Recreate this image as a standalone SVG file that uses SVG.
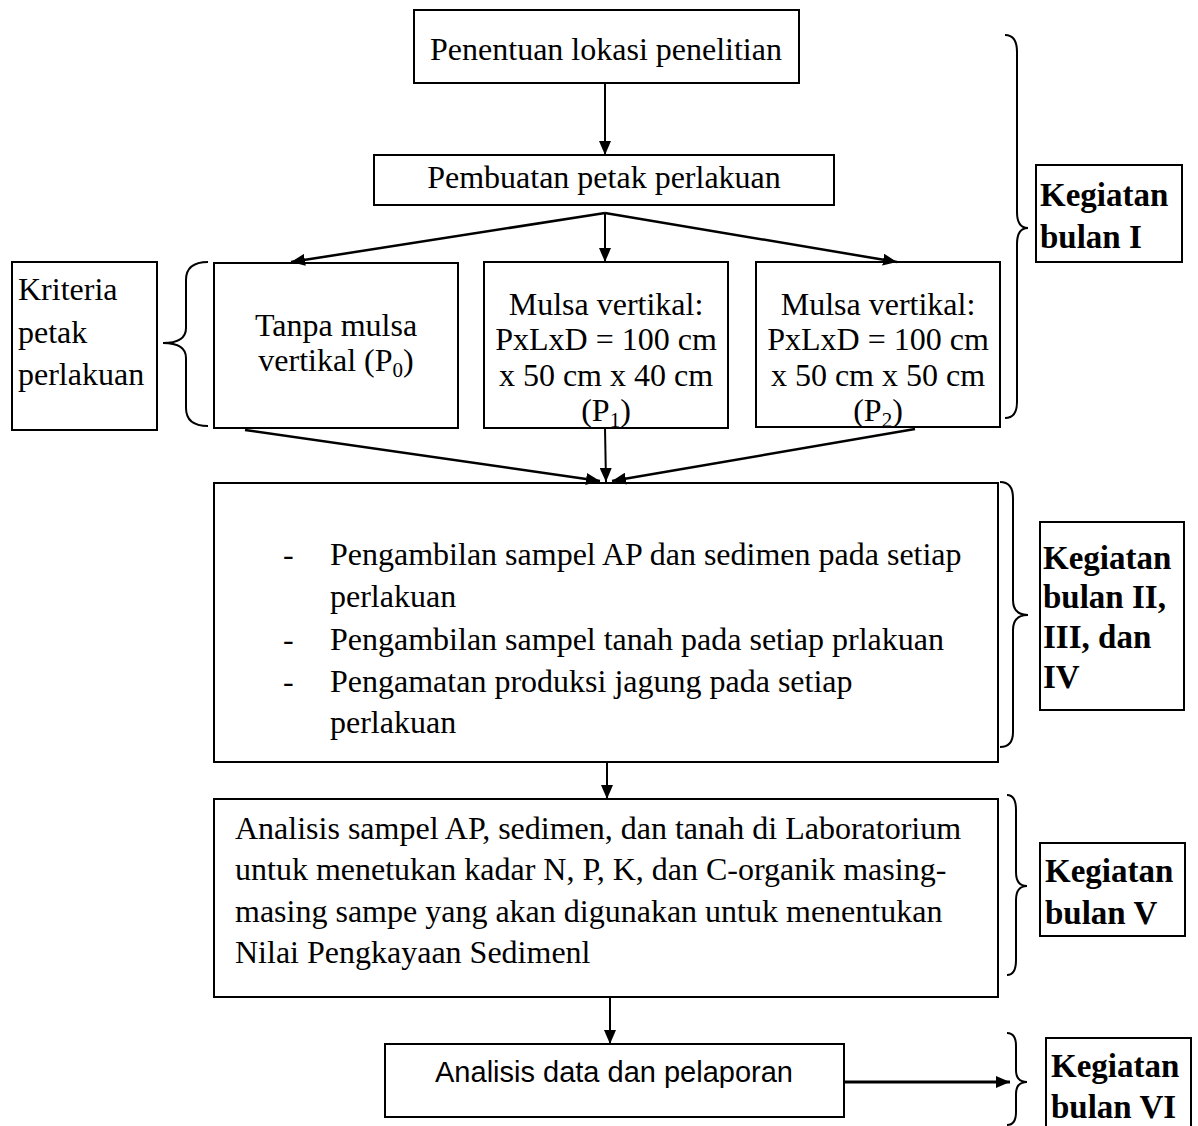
<svg xmlns="http://www.w3.org/2000/svg" width="1198" height="1126" viewBox="0 0 1198 1126">
<style>
.box{fill:#fff;stroke:#000;stroke-width:2}
.t{font-family:"Liberation Serif","Times New Roman",serif;font-size:32px;fill:#000}
.b{font-family:"Liberation Serif","Times New Roman",serif;font-size:33px;font-weight:bold;fill:#000}
.a{font-family:"Liberation Sans",Arial,sans-serif;font-size:29px;fill:#000}
.c{fill:none;stroke:#000;stroke-width:2.5}
.br{fill:none;stroke:#000;stroke-width:2}
</style>
<defs>
<marker id="ah" markerUnits="userSpaceOnUse" markerWidth="14" markerHeight="12" refX="14" refY="6" orient="auto">
<path d="M0,0 L14,6 L0,12 z" fill="#000"/>
</marker>
</defs>
<rect width="1198" height="1126" fill="#fff"/>

<g id="n1"><rect class="box" x="414" y="10" width="385" height="73"/>
<text class="t" x="606" y="60" text-anchor="middle">Penentuan lokasi penelitian</text></g>

<g id="n2"><rect class="box" x="374" y="155" width="460" height="50"/>
<text class="t" x="604" y="188" text-anchor="middle">Pembuatan petak perlakuan</text></g>

<g id="kriteria"><rect class="box" x="12" y="262" width="145" height="168"/>
<text class="t" x="18" y="300">Kriteria</text>
<text class="t" x="18" y="343">petak</text>
<text class="t" x="18" y="385">perlakuan</text></g>

<g id="p0"><rect class="box" x="214" y="263" width="244" height="165"/>
<text class="t" x="336" y="336" text-anchor="middle">Tanpa mulsa</text>
<text class="t" x="336" y="371" text-anchor="middle">vertikal (P<tspan font-size="21" dy="6">0</tspan><tspan dy="-6">)</tspan></text></g>

<g id="p1"><rect class="box" x="484" y="262" width="244" height="166"/>
<text class="t" x="606" y="315" text-anchor="middle">Mulsa vertikal:</text>
<text class="t" x="606" y="350" text-anchor="middle">PxLxD = 100 cm</text>
<text class="t" x="606" y="386" text-anchor="middle">x 50 cm x 40 cm</text>
<text class="t" x="606" y="421" text-anchor="middle">(P<tspan font-size="21" dy="6">1</tspan><tspan dy="-6">)</tspan></text></g>

<g id="p2"><rect class="box" x="756" y="262" width="244" height="165"/>
<text class="t" x="878" y="315" text-anchor="middle">Mulsa vertikal:</text>
<text class="t" x="878" y="350" text-anchor="middle">PxLxD = 100 cm</text>
<text class="t" x="878" y="386" text-anchor="middle">x 50 cm x 50 cm</text>
<text class="t" x="878" y="421" text-anchor="middle">(P<tspan font-size="21" dy="6">2</tspan><tspan dy="-6">)</tspan></text></g>

<g id="n4"><rect class="box" x="214" y="483" width="784" height="279"/>
<text class="t" x="283" y="565">-</text>
<text class="t" x="330" y="565">Pengambilan sampel AP dan sedimen pada setiap</text>
<text class="t" x="330" y="607">perlakuan</text>
<text class="t" x="283" y="650">-</text>
<text class="t" x="330" y="650">Pengambilan sampel tanah pada setiap prlakuan</text>
<text class="t" x="283" y="692">-</text>
<text class="t" x="330" y="692">Pengamatan produksi jagung pada setiap</text>
<text class="t" x="330" y="733">perlakuan</text></g>

<g id="n5"><rect class="box" x="214" y="799" width="784" height="198"/>
<text class="t" x="235" y="839">Analisis sampel AP, sedimen, dan tanah di Laboratorium</text>
<text class="t" x="235" y="880">untuk menetukan kadar N, P, K, dan C-organik masing-</text>
<text class="t" x="235" y="922">masing sampe yang akan digunakan untuk menentukan</text>
<text class="t" x="235" y="963">Nilai Pengkayaan Sedimenl</text></g>

<g id="n6"><rect class="box" x="385" y="1044" width="459" height="73"/>
<text class="a" x="614" y="1082" text-anchor="middle">Analisis data dan pelaporan</text></g>

<g id="k1"><rect class="box" x="1036" y="165" width="146" height="97"/>
<text class="b" x="1040" y="206">Kegiatan</text>
<text class="b" x="1040" y="248">bulan I</text></g>

<g id="k2"><rect class="box" x="1040" y="522" width="144" height="188"/>
<text class="b" x="1043" y="569">Kegiatan</text>
<text class="b" x="1043" y="608">bulan II,</text>
<text class="b" x="1043" y="648">III, dan</text>
<text class="b" x="1043" y="688">IV</text></g>

<g id="k3"><rect class="box" x="1040" y="843" width="145" height="93"/>
<text class="b" x="1045" y="882">Kegiatan</text>
<text class="b" x="1045" y="924">bulan V</text></g>

<g id="k4"><rect class="box" x="1046" y="1038" width="145" height="100"/>
<text class="b" x="1051" y="1077">Kegiatan</text>
<text class="b" x="1051" y="1118">bulan VI</text></g>

<g id="braces">
<path class="br" d="M208,262 Q186,262 186,280 L186,328 Q186,343 163,343 Q186,343 186,358 L186,408 Q186,426 208,426"/>
<path class="br" d="M1005,35 Q1017,35 1017,52 L1017,212 Q1017,228 1028,228 Q1017,228 1017,244 L1017,402 Q1017,418 1005,418"/>
<path class="br" d="M1000,482 Q1013,482 1013,498 L1013,600 Q1013,615 1028,615 Q1013,615 1013,630 L1013,732 Q1013,747 1000,747"/>
<path class="br" d="M1007,795 Q1016,795 1016,810 L1016,872 Q1016,886 1027,886 Q1016,886 1016,900 L1016,960 Q1016,975 1007,975"/>
<path class="br" d="M1007,1033 Q1016,1033 1016,1046 L1016,1070 Q1016,1082 1027,1082 Q1016,1082 1016,1094 L1016,1112 Q1016,1125 1007,1125"/>
</g>

<g id="connectors">
<line class="c" x1="605" y1="83" x2="605" y2="155" marker-end="url(#ah)" style="stroke-width:2"/>
<line class="c" x1="605" y1="213" x2="291" y2="262" marker-end="url(#ah)"/>
<line class="c" x1="605" y1="213" x2="605" y2="262" marker-end="url(#ah)" style="stroke-width:2"/>
<line class="c" x1="605" y1="213" x2="897" y2="262" marker-end="url(#ah)"/>
<line class="c" x1="245" y1="430" x2="600" y2="481" marker-end="url(#ah)"/>
<line class="c" x1="605" y1="428" x2="606" y2="482" marker-end="url(#ah)" style="stroke-width:2"/>
<line class="c" x1="915" y1="429" x2="612" y2="481" marker-end="url(#ah)"/>
<line class="c" x1="607" y1="762" x2="607" y2="799" marker-end="url(#ah)" style="stroke-width:2"/>
<line class="c" x1="610" y1="997" x2="610" y2="1044" marker-end="url(#ah)" style="stroke-width:2"/>
<line class="c" x1="844" y1="1082" x2="1010" y2="1082" marker-end="url(#ah)" style="stroke-width:3"/>
</g>
</svg>
